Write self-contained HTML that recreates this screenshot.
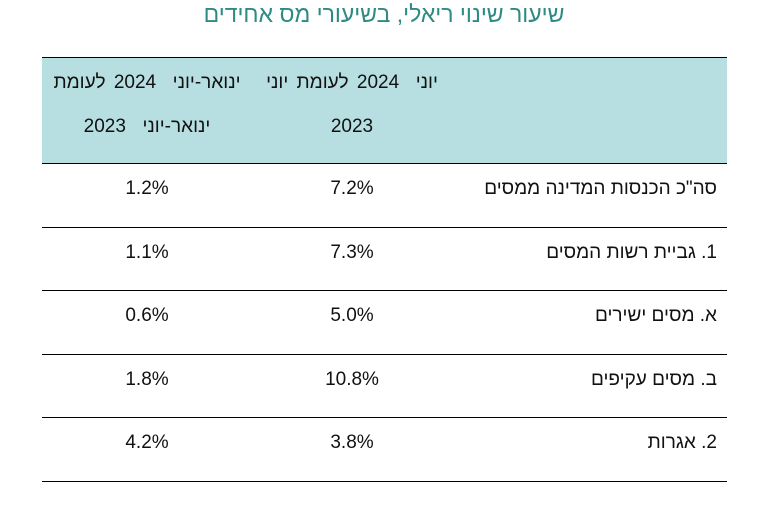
<!DOCTYPE html>
<html><head><meta charset="utf-8"><style>
body{margin:0;width:768px;height:510px;background:#fff;position:relative;overflow:hidden;font-family:"Liberation Sans","Noto Sans CJK JP",sans-serif;}
.a{position:absolute;white-space:nowrap;direction:rtl;}
.t{font-size:19px;color:#111;}
.c2{left:252px;width:200px;text-align:center;}
.c1{left:47px;width:200px;text-align:center;}
.lb{right:51px;text-align:right;}
.ln{position:absolute;left:42px;width:685px;height:1px;background:#000;}
</style></head><body>
<div class="a" style="left:0;width:768px;text-align:center;top:1px;font-size:23px;color:#2e8b84;">שיעור שינוי ריאלי, בשיעורי מס אחידים</div>
<div style="position:absolute;left:42px;top:58px;width:685px;height:105px;background:#b7dfe1;"></div>
<div class="ln" style="top:57px"></div>
<div class="a t" style="left:232px;width:240px;text-align:center;top:61px;line-height:44px;font-size:19px;word-spacing:3px;">יוני&nbsp; 2024 לעומת יוני<br>2023</div>
<div class="a t" style="left:27px;width:240px;text-align:center;top:61px;line-height:44px;font-size:19px;word-spacing:3px;">ינואר-יוני&nbsp; 2024 לעומת<br>ינואר-יוני&nbsp; 2023</div>
<div id="rows"></div>
<script>
const labels=['סה"כ הכנסות המדינה ממסים','1. גביית רשות המסים','א. מסים ישירים','ב. מסים עקיפים','2. אגרות'];
const june=['7.2%','7.3%','5.0%','10.8%','3.8%'];
const janJune=['1.2%','1.1%','0.6%','1.8%','4.2%'];
const tops=[163,227,290,354,417,481];
const host=document.body;
const l0=document.createElement('div');l0.className='ln';l0.style.top='163px';


host.appendChild(l0);
labels.forEach((lab,i)=>{
 const y=tops[i]+15;
 const a=document.createElement('div');a.className='a t lb';a.style.top=y+'px';a.textContent=lab;
 
 
 host.appendChild(a);
 const b=document.createElement('div');b.className='a t c2';b.style.top=y+'px';b.style.direction='ltr';b.textContent=june[i];
 
 
 host.appendChild(b);
 const c=document.createElement('div');c.className='a t c1';c.style.top=y+'px';c.style.direction='ltr';c.textContent=janJune[i];
 
 
 host.appendChild(c);
 const l=document.createElement('div');l.className='ln';l.style.top=tops[i+1]+'px';
 
 
 host.appendChild(l);
});
</script>
</body></html>
